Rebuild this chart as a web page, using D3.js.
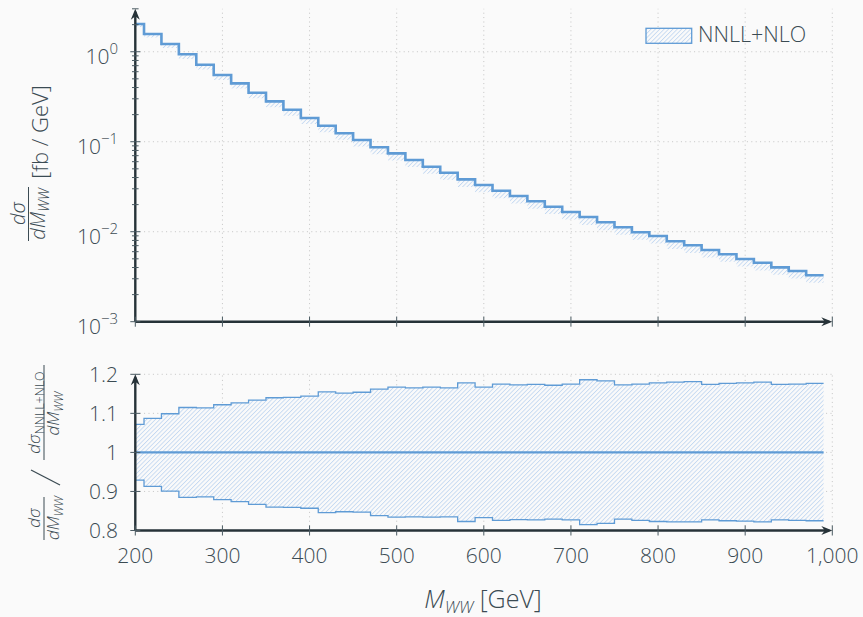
<!DOCTYPE html>
<html>
<head>
<meta charset="utf-8">
<script src="https://cdn.jsdelivr.net/npm/d3@7"></script>
<style>
  html, body { margin: 0; padding: 0; background: #fafafa; }
  svg { display: block; font-family: "Open Sans", sans-serif; font-weight: 300; }
</style>
</head>
<body>
<svg id="chart" width="863" height="617"></svg>
<script>
// Bin edges of the M_WW histogram [GeV]
const binEdges = [200, 210, 230, 250, 270, 290, 310, 330, 350, 370, 390, 410, 430, 450, 470, 490,
  510, 530, 550, 570, 590, 610, 630, 650, 670, 690, 710, 730, 750, 770, 790, 810, 830, 850, 870,
  890, 910, 930, 950, 970, 990];

// NNLL+NLO differential cross section per bin [fb/GeV]
const nnllNlo = [2.03, 1.573, 1.218, 0.936, 0.717, 0.551, 0.4455, 0.350, 0.281, 0.2268,
  0.1834, 0.1506, 0.1240, 0.1044, 0.0867, 0.0743, 0.0626, 0.0528, 0.0452, 0.0382,
  0.0330, 0.0285, 0.0249, 0.0218, 0.01896, 0.01655, 0.01457, 0.01272, 0.01119, 0.00985,
  0.00896, 0.00782, 0.00706, 0.00626, 0.00561, 0.00497, 0.00452, 0.00402, 0.00366, 0.00328];

// Scale-variation envelope relative to the central prediction
const ratioUp = [1.072, 1.087, 1.099, 1.115, 1.114, 1.122, 1.127, 1.134, 1.140, 1.141,
  1.144, 1.155, 1.152, 1.154, 1.162, 1.167, 1.165, 1.167, 1.165, 1.178,
  1.167, 1.175, 1.173, 1.174, 1.172, 1.175, 1.186, 1.183, 1.173, 1.175,
  1.178, 1.180, 1.181, 1.174, 1.177, 1.178, 1.180, 1.174, 1.175, 1.177];
const ratioDown = [0.929, 0.913, 0.901, 0.885, 0.886, 0.879, 0.874, 0.867, 0.860, 0.859,
  0.857, 0.846, 0.848, 0.847, 0.838, 0.834, 0.835, 0.834, 0.835, 0.823,
  0.833, 0.826, 0.828, 0.827, 0.829, 0.827, 0.815, 0.818, 0.829, 0.826,
  0.823, 0.822, 0.822, 0.827, 0.825, 0.824, 0.822, 0.827, 0.826, 0.825];

// Axis ticks and labels
const xTicks = [200, 300, 400, 500, 600, 700, 800, 900, 1000];
const xTickLabels = ["200", "300", "400", "500", "600", "700", "800", "900", "1,000"];
const logTicks = [1e-3, 1e-2, 1e-1, 1];
const logTickExponents = ["\u22123", "\u22122", "\u22121", "0"];
const ratioTicks = [0.8, 0.9, 1, 1.1, 1.2];
const ratioTickLabels = ["0.8", "0.9", "1", "1.1", "1.2"];
const legendLabel = "NNLL+NLO";

const C = {
  axis: "#263238",
  tick: "#4a5a62",
  text: "#3b4b53",
  line: "#5f9bd5",
  hatch: "#c3d8f1",
  grid: "#c4c4c4"
};

const svg = d3.select("#chart");
svg.append("rect").attr("width", 863).attr("height", 617).attr("fill", "#fafafa");

// hatch pattern for the uncertainty bands: thin light-blue diagonals
const defs = svg.append("defs");
const pat = defs.append("pattern")
  .attr("id", "hatch").attr("patternUnits", "userSpaceOnUse")
  .attr("width", 3.1).attr("height", 3.1)
  .attr("patternTransform", "rotate(45)");
pat.append("rect").attr("x", 0).attr("y", 0).attr("width", 3.1).attr("height", 3.1).attr("fill", "#fafafa");
pat.append("rect").attr("x", 0).attr("y", 0).attr("width", 0.85).attr("height", 3.1).attr("fill", C.hatch);

// scales
const x = d3.scaleLinear().domain([200, 1000]).range([135.3, 832.3]);
const yTop = d3.scaleLog().domain([1e-3, 3]).range([321.7, 8.8]);
const yBot = d3.scaleLinear().domain([0.8, 1.2]).range([530.5, 374.3]);

// bin points (step-after) including the closing edge
const bins = nnllNlo.map((v, i) => ({ x: binEdges[i], v, up: ratioUp[i], dn: ratioDown[i] }));
const lastBin = bins[bins.length - 1];
const stepPts = bins.concat([{ x: binEdges[binEdges.length - 1], v: lastBin.v, up: lastBin.up, dn: lastBin.dn }]);

function dotted(g, x1, y1, x2, y2) {
  g.append("line").attr("x1", x1).attr("y1", y1).attr("x2", x2).attr("y2", y2)
    .attr("stroke", C.grid).attr("stroke-width", 1).attr("stroke-dasharray", "1 3.4");
}

function arrowHead(g, tx, ty, angle) {
  g.append("path")
    .attr("d", "M0,0 L-11,-4.5 L-7.5,0 L-11,4.5 Z")
    .attr("fill", C.axis)
    .attr("transform", `translate(${tx},${ty}) rotate(${angle})`);
}

// ---------- upper panel ----------
const upper = svg.append("g");
logTicks.filter(t => t > 1e-3).forEach(t => dotted(upper, x(200), yTop(t), x(1000), yTop(t)));
xTicks.filter(t => t > 200).forEach(t => dotted(upper, x(t), yTop(1e-3), x(t), yTop(3)));

// band and central histogram
upper.append("path")
  .datum(stepPts)
  .attr("d", d3.area().curve(d3.curveStepAfter)
    .x(d => x(d.x)).y0(d => yTop(d.v * d.dn)).y1(d => yTop(d.v)))
  .attr("fill", "url(#hatch)");
upper.append("path")
  .datum(stepPts)
  .attr("d", d3.line().curve(d3.curveStepAfter).x(d => x(d.x)).y(d => yTop(d.v)))
  .attr("fill", "none").attr("stroke", C.line).attr("stroke-width", 2.6);

// axes
upper.append("line").attr("x1", x(200)).attr("x2", x(1000) - 3).attr("y1", yTop(1e-3)).attr("y2", yTop(1e-3))
  .attr("stroke", C.axis).attr("stroke-width", 2.4);
arrowHead(upper, x(1000), yTop(1e-3), 0);
upper.append("line").attr("x1", x(200)).attr("x2", x(200)).attr("y1", yTop(1e-3)).attr("y2", yTop(3) + 3)
  .attr("stroke", C.axis).attr("stroke-width", 2.4);
arrowHead(upper, x(200), yTop(3), -90);

// x ticks (no labels on the upper panel)
xTicks.forEach(t => upper.append("line").attr("x1", x(t)).attr("x2", x(t))
  .attr("y1", yTop(1e-3) - 5).attr("y2", yTop(1e-3) + 5).attr("stroke", C.tick).attr("stroke-width", 1));

// log y ticks
const minorTicks = yTop.ticks().filter(t => Math.abs(Math.log10(t) - Math.round(Math.log10(t))) > 1e-6);
minorTicks.forEach(t => upper.append("line").attr("x1", x(200) - 3.3).attr("x2", x(200) + 3.3)
  .attr("y1", yTop(t)).attr("y2", yTop(t)).attr("stroke", C.tick).attr("stroke-width", 1));
logTicks.forEach((t, i) => {
  upper.append("line").attr("x1", x(200) - 5).attr("x2", x(200) + 5)
    .attr("y1", yTop(t)).attr("y2", yTop(t)).attr("stroke", C.tick).attr("stroke-width", 1);
  const tx = upper.append("text").attr("x", 118).attr("y", yTop(t) + 12)
    .attr("text-anchor", "end").attr("fill", C.text).attr("font-size", 21);
  tx.append("tspan").text("10");
  tx.append("tspan").attr("dy", -10).attr("font-size", 15).text(logTickExponents[i]);
});

// legend
upper.append("rect").attr("x", 646).attr("y", 28.3).attr("width", 45.7).attr("height", 15)
  .attr("fill", "url(#hatch)").attr("stroke", C.line).attr("stroke-width", 1.3);
upper.append("text").attr("x", 698).attr("y", 41.8).attr("fill", C.text).attr("font-size", 21.5)
  .text(legendLabel);

// y label: dσ/dM_WW [fb/GeV]
const yl1 = svg.append("g").attr("transform", "translate(0,163) rotate(-90)")
  .attr("fill", C.text);
yl1.append("text").attr("x", -50.5).attr("y", 25).attr("text-anchor", "middle")
  .attr("font-size", 20).attr("font-style", "italic").text("d\u03c3");
yl1.append("line").attr("x1", -78).attr("x2", -24).attr("y1", 28.5).attr("y2", 28.5)
  .attr("stroke", C.text).attr("stroke-width", 1);
const den1 = yl1.append("text").attr("x", -51).attr("y", 45).attr("text-anchor", "middle")
  .attr("font-size", 20).attr("font-style", "italic");
den1.append("tspan").text("dM");
den1.append("tspan").attr("dy", 4).attr("font-size", 14).text("WW");
yl1.append("text").attr("x", 31).attr("y", 48).attr("text-anchor", "middle")
  .attr("font-size", 22).text("[fb / GeV]");

// ---------- ratio panel ----------
const lower = svg.append("g");
ratioTicks.filter(t => t > 0.8).forEach(t => dotted(lower, x(200), yBot(t), x(1000), yBot(t)));
xTicks.filter(t => t > 200).forEach(t => dotted(lower, x(t), yBot(0.8), x(t), yBot(1.2)));

lower.append("path")
  .datum(stepPts)
  .attr("d", d3.area().curve(d3.curveStepAfter)
    .x(d => x(d.x)).y0(d => yBot(d.dn)).y1(d => yBot(d.up)))
  .attr("fill", "url(#hatch)");
[d => yBot(d.up), d => yBot(d.dn)].forEach(fy => {
  lower.append("path").datum(stepPts)
    .attr("d", d3.line().curve(d3.curveStepAfter).x(d => x(d.x)).y(fy))
    .attr("fill", "none").attr("stroke", C.line).attr("stroke-width", 1.3);
});
// central prediction divided by itself
lower.append("path").datum(stepPts)
  .attr("d", d3.line().curve(d3.curveStepAfter).x(d => x(d.x)).y(d => yBot(d.v / d.v)))
  .attr("fill", "none").attr("stroke", C.line).attr("stroke-width", 2.4);

lower.append("line").attr("x1", x(200)).attr("x2", x(1000) - 3).attr("y1", yBot(0.8)).attr("y2", yBot(0.8))
  .attr("stroke", C.axis).attr("stroke-width", 2.4);
arrowHead(lower, x(1000), yBot(0.8), 0);
lower.append("line").attr("x1", x(200)).attr("x2", x(200)).attr("y1", yBot(0.8)).attr("y2", yBot(1.2) + 3)
  .attr("stroke", C.axis).attr("stroke-width", 2.4);
arrowHead(lower, x(200), yBot(1.2), -90);

xTicks.forEach((t, i) => {
  lower.append("line").attr("x1", x(t)).attr("x2", x(t))
    .attr("y1", yBot(0.8) - 5).attr("y2", yBot(0.8) + 5).attr("stroke", C.tick).attr("stroke-width", 1);
  lower.append("text").attr("x", x(t)).attr("y", 563.3).attr("text-anchor", "middle")
    .attr("fill", C.text).attr("font-size", 21).text(xTickLabels[i]);
});
ratioTicks.forEach((t, i) => {
  lower.append("line").attr("x1", x(200) - 5).attr("x2", x(200) + 5)
    .attr("y1", yBot(t)).attr("y2", yBot(t)).attr("stroke", C.tick).attr("stroke-width", 1);
  lower.append("text").attr("x", 118).attr("y", yBot(t) + 7.5).attr("text-anchor", "end")
    .attr("fill", C.text).attr("font-size", 21).text(ratioTickLabels[i]);
});

// x label: M_WW [GeV]
const xl = svg.append("text").attr("x", 483).attr("y", 608).attr("text-anchor", "middle")
  .attr("fill", C.text).attr("font-size", 25);
xl.append("tspan").attr("font-style", "italic").text("M");
xl.append("tspan").attr("font-style", "italic").attr("font-size", 17).attr("dy", 5).text("WW");
xl.append("tspan").attr("dy", -5).text("\u00a0[GeV]");

// y label of ratio panel: (dσ/dM_WW) / (dσ_NNLL+NLO/dM_WW)
const yl2 = svg.append("g").attr("transform", "translate(0,452) rotate(-90)")
  .attr("fill", C.text);
yl2.append("text").attr("x", -66).attr("y", 40).attr("text-anchor", "middle")
  .attr("font-size", 17).attr("font-style", "italic").text("d\u03c3");
yl2.append("line").attr("x1", -88).attr("x2", -45).attr("y1", 44).attr("y2", 44)
  .attr("stroke", C.text).attr("stroke-width", 1);
const d2a = yl2.append("text").attr("x", -66).attr("y", 59).attr("text-anchor", "middle")
  .attr("font-size", 17).attr("font-style", "italic");
d2a.append("tspan").text("dM");
d2a.append("tspan").attr("dy", 4).attr("font-size", 12).text("WW");
// large separating slash
yl2.append("line").attr("x1", -33).attr("y1", 60).attr("x2", -18).attr("y2", 31)
  .attr("stroke", C.text).attr("stroke-width", 1.3);
const n2b = yl2.append("text").attr("x", 39.5).attr("y", 40).attr("text-anchor", "middle")
  .attr("font-size", 17);
n2b.append("tspan").attr("font-style", "italic").text("d\u03c3");
n2b.append("tspan").attr("dy", 4).attr("font-size", 12.5).text(legendLabel);
yl2.append("line").attr("x1", -8).attr("x2", 87).attr("y1", 44).attr("y2", 44)
  .attr("stroke", C.text).attr("stroke-width", 1);
const d2b = yl2.append("text").attr("x", 38.5).attr("y", 59).attr("text-anchor", "middle")
  .attr("font-size", 17).attr("font-style", "italic");
d2b.append("tspan").text("dM");
d2b.append("tspan").attr("dy", 4).attr("font-size", 12).text("WW");
</script>
</body>
</html>
